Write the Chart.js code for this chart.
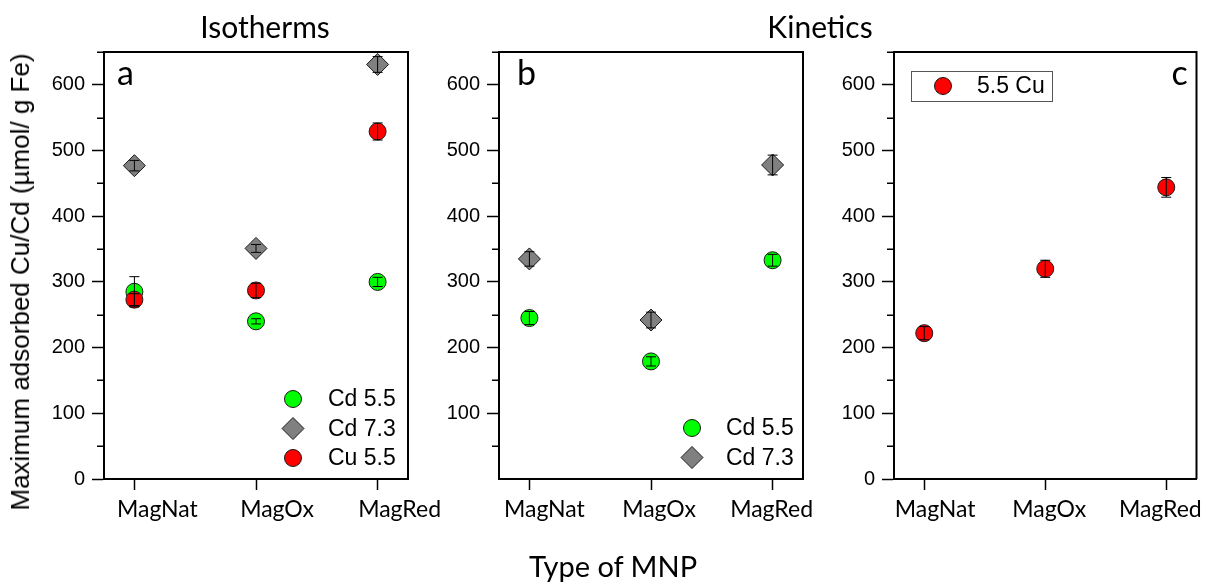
<!DOCTYPE html>
<html><head><meta charset="utf-8">
<script src="https://cdn.jsdelivr.net/npm/chart.js@4.4.0/dist/chart.umd.min.js"></script>
<style>
html,body{margin:0;padding:0;background:#fff;}
#wrap{position:relative;width:1206px;height:584px;overflow:hidden;background:#fff;}
canvas{position:absolute;left:0;top:0;pointer-events:none;}
.t{position:absolute;white-space:nowrap;color:#000;line-height:1;}
</style></head><body>
<div id="wrap">
<canvas id="ca" width="1206" height="584"></canvas>
<canvas id="cb" width="1206" height="584"></canvas>
<canvas id="cc" width="1206" height="584"></canvas>
<div class="t" style="font-family:Lato;font-size:30px;left:265px;top:11px;transform:translateX(-50%)">Isotherms</div>
<div class="t" style="font-family:Lato;font-size:30px;left:820px;top:11px;transform:translateX(-50%)">Kinetics</div>
<div class="t" style="font-family:Lato;font-size:29px;left:613px;top:551px;transform:translateX(-50%)">Type of MNP</div>
<div class="t" style="font-family:'Liberation Sans';font-size:26px;left:20px;top:282px;transform:translate(-50%,-50%) rotate(-90deg)">Maximum adsorbed Cu/Cd (µmol/ g Fe)</div>
</div>
<script>
// ---- data ----
const categories = ['MagNat', 'MagOx', 'MagRed'];
const yTicksFull = [0, 100, 200, 300, 400, 500, 600];
const yTicksNoZero = [100, 200, 300, 400, 500, 600];
const yMinorTicks = [50, 150, 250, 350, 450, 550, 650];

// Isotherms (panel a)
const isoCd55 = [285, 240, 300];
const isoCd55Err = [23, 4, 7];
const isoCd73 = [477, 351, 631];
const isoCd73Err = [8, 6, 12];
const isoCu55 = [273, 287, 529];
const isoCu55Err = [9, 11, 13];

// Kinetics Cd (panel b)
const kinCd55 = [245, 179, 333];
const kinCd55Err = [10, 7, 9];
const kinCd73 = [335, 242, 478];
const kinCd73Err = [11, 12, 15];

// Kinetics Cu (panel c)
const kinCu55 = [222, 320, 444];
const kinCu55Err = [10, 13, 15];

// ---- styles ----
const GREEN = '#00ff00', GRAY = '#808080', RED = '#ff0000', EDGE = '#1a1a1a';

function series(label, vals, errs, style, color, radius, order) {
  return {
    label: label,
    data: vals.map((v, i) => ({x: i, y: v})),
    errors: errs,
    order: order,
    showLine: false,
    pointStyle: style,
    pointRadius: radius,
    pointHoverRadius: radius,
    pointBackgroundColor: color,
    pointBorderColor: EDGE,
    pointBorderWidth: 1,
    backgroundColor: color,
    borderColor: EDGE
  };
}

const deco = {
  id: 'panelDeco',
  afterDatasetsDraw(chart, args, opts) {
    const ctx = chart.ctx, ys = chart.scales.y;
    ctx.save();
    ctx.strokeStyle = '#000';
    ctx.lineWidth = 1;
    chart.data.datasets.forEach((ds, di) => {
      const meta = chart.getDatasetMeta(di);
      meta.data.forEach((pt, i) => {
        const v = ds.data[i].y, e = ds.errors[i];
        const y1 = ys.getPixelForValue(v + e), y2 = ys.getPixelForValue(v - e);
        ctx.beginPath();
        ctx.moveTo(pt.x, y1); ctx.lineTo(pt.x, y2);
        ctx.moveTo(pt.x - 5, y1); ctx.lineTo(pt.x + 5, y1);
        ctx.moveTo(pt.x - 5, y2); ctx.lineTo(pt.x + 5, y2);
        ctx.stroke();
      });
    });
    ctx.restore();
  },
  afterDraw(chart, args, opts) {
    const ctx = chart.ctx, a = chart.chartArea, ys = chart.scales.y;
    ctx.save();
    // frame
    ctx.strokeStyle = '#000';
    ctx.lineWidth = 2;
    ctx.beginPath();
    ctx.moveTo(a.left, a.top); ctx.lineTo(a.right, a.top); ctx.lineTo(a.right, a.bottom);
    ctx.stroke();
    // minor ticks
    ctx.lineWidth = 1.5;
    ctx.beginPath();
    yMinorTicks.forEach(v => {
      const y = Math.round(ys.getPixelForValue(v)) + 0.25;
      ctx.moveTo(a.left - 7, y); ctx.lineTo(a.left, y);
    });
    ctx.stroke();
    // panel letter
    ctx.fillStyle = '#000';
    ctx.font = '34px Lato';
    ctx.textBaseline = 'alphabetic';
    ctx.textAlign = 'left';
    const lx = opts.letterFromRight ? a.right - opts.letterX : a.left + opts.letterX;
    ctx.fillText(opts.letter, lx, a.top + opts.letterY);
    // legend
    const lg = opts.legend;
    if (lg.box) {
      ctx.strokeStyle = '#555';
      ctx.lineWidth = 1;
      ctx.strokeRect(a.left + lg.box[0] + 0.5, a.top + lg.box[1] + 0.5, lg.box[2], lg.box[3]);
    }
    ctx.font = '23px "Liberation Sans"';
    ctx.textBaseline = 'middle';
    lg.items.forEach((di, k) => {
      const ds = chart.data.datasets[di];
      const x = a.left + lg.markerX, y = a.top + lg.firstY + k * lg.rowH;
      ctx.fillStyle = ds.pointBackgroundColor;
      ctx.strokeStyle = ds.pointBorderColor;
      ctx.lineWidth = 1;
      Chart.helpers.drawPoint(ctx, {pointStyle: ds.pointStyle, radius: ds.pointRadius, rotation: 0, borderWidth: 1}, x, y);
      ctx.fillStyle = '#000';
      ctx.fillText(ds.label, a.left + lg.textX, y + 1);
    });
    ctx.restore();
  }
};

function makePanel(id, area, datasets, yTicks, labelShiftPx, decoOpts) {
  const H = 584, W = 1206, YW = 60, TL = 11, XH = 50;
  const xMin = -0.25, xMax = 2.25;
  const pxPerUnit = (area.right - area.left) / (xMax - xMin);
  return new Chart(document.getElementById(id), {
    type: 'scatter',
    data: {datasets: datasets},
    plugins: [deco],
    options: {
      responsive: false,
      animation: false,
      devicePixelRatio: 1,
      events: [],
      layout: {padding: {left: area.left - YW, right: W - area.right, top: area.top, bottom: H - area.bottom - XH}},
      plugins: {legend: {display: false}, tooltip: {enabled: false}, panelDeco: decoOpts},
      scales: {
        x: {
          type: 'linear', axis: 'x', min: xMin, max: xMax, position: 'bottom', weight: 0,
          afterBuildTicks: s => { s.ticks = categories.map((c, i) => ({value: i})); },
          afterFit: s => { s.height = TL; s.paddingLeft = 0; s.paddingRight = 0; },
          ticks: {display: false, autoSkip: false},
          grid: {drawOnChartArea: false, drawTicks: true, tickLength: TL, tickWidth: 1.5, tickColor: '#000'},
          border: {display: true, color: '#000', width: 2}
        },
        xl: {
          type: 'linear', axis: 'x', min: xMin, max: xMax, position: 'bottom', weight: 1,
          afterBuildTicks: s => { s.ticks = categories.map((c, i) => ({value: i + labelShiftPx[i] / pxPerUnit})); },
          afterFit: s => { s.height = XH - TL; s.paddingLeft = 0; s.paddingRight = 0; },
          ticks: {
            callback: (v, i) => categories[i],
            font: {family: 'Lato', size: 23},
            color: '#000', padding: 6,
            maxRotation: 0, minRotation: 0, autoSkip: false
          },
          grid: {display: false, drawTicks: false},
          border: {display: false}
        },
        y: {
          type: 'linear', axis: 'y', min: 0, max: 650,
          afterBuildTicks: s => { s.ticks = yTicks.map(v => ({value: v})); },
          afterFit: s => { s.width = YW; s.paddingTop = 0; s.paddingBottom = 0; },
          ticks: {
            callback: v => String(v),
            font: {family: 'Liberation Sans', size: 20},
            color: '#000', padding: 7, autoSkip: false
          },
          grid: {drawOnChartArea: false, drawTicks: true, tickLength: 12, tickWidth: 1.5, tickColor: '#000'},
          border: {display: true, color: '#000', width: 2}
        }
      }
    }
  });
}

makePanel('ca', {left: 104, right: 408, top: 52, bottom: 479}, [
  series('Cd 5.5', isoCd55, isoCd55Err, 'circle', GREEN, 8.5, 2),
  series('Cd 7.3', isoCd73, isoCd73Err, 'rectRot', GRAY, 11, 1),
  series('Cu 5.5', isoCu55, isoCu55Err, 'circle', RED, 8.5, 0)
], yTicksFull, [23, 21, 22], {
  letter: 'a', letterX: 13, letterY: 33,
  legend: {items: [0, 1, 2], markerX: 189, textX: 224, firstY: 347, rowH: 29.5}
});

makePanel('cb', {left: 499, right: 803, top: 52, bottom: 479}, [
  series('Cd 5.5', kinCd55, kinCd55Err, 'circle', GREEN, 8.5, 1),
  series('Cd 7.3', kinCd73, kinCd73Err, 'rectRot', GRAY, 11, 0)
], yTicksNoZero, [15, 8, -1], {
  letter: 'b', letterX: 18, letterY: 33,
  legend: {items: [0, 1], markerX: 193, textX: 227, firstY: 376, rowH: 29.5}
});

makePanel('cc', {left: 894, right: 1199, top: 52, bottom: 479}, [
  series('5.5 Cu', kinCu55, kinCu55Err, 'circle', RED, 8.5, 0)
], yTicksFull, [11, 4, -6], {
  letter: 'c', letterX: 25, letterY: 33, letterFromRight: true,
  legend: {items: [0], markerX: 49, textX: 83, firstY: 34, rowH: 29.5, box: [17, 19, 141, 30]}
});
</script>
</body></html>
